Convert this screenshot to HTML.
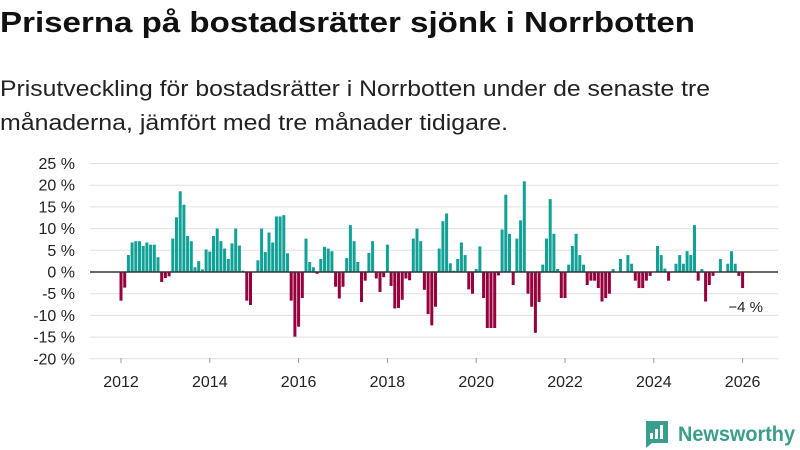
<!DOCTYPE html>
<html><head><meta charset="utf-8">
<style>
html,body{margin:0;padding:0;background:#fff;width:800px;height:450px;overflow:hidden;font-family:"Liberation Sans","DejaVu Sans",sans-serif;}
svg text{font-family:"Liberation Sans","DejaVu Sans",sans-serif;}
</style></head>
<body>
<svg id="chart" width="800" height="450" viewBox="0 0 800 450">
  <text x="0" y="32" font-size="29" font-weight="bold" fill="#111" textLength="695" lengthAdjust="spacingAndGlyphs">Priserna på bostadsrätter sjönk i Norrbotten</text>
  <text x="0" y="96" font-size="22" fill="#222" textLength="710" lengthAdjust="spacingAndGlyphs">Prisutveckling för bostadsrätter i Norrbotten under de senaste tre</text>
  <text x="0" y="130" font-size="22" fill="#222" textLength="508" lengthAdjust="spacingAndGlyphs">månaderna, jämfört med tre månader tidigare.</text>
  <g id="grid"></g>
  <g id="bars"></g>
  <line x1="90" x2="778" y1="272" y2="272" stroke="#333" stroke-width="1.5"/>
  <g id="xaxis"></g>
  <text x="763" y="312" font-size="15" fill="#222" text-anchor="end">−4 %</text>
  <g>
    <path d="M646 421 h22 v22 h-16 l-6 5 z" fill="#3a9e8c"/>
    <rect x="650" y="433" width="3" height="6" fill="#fff"/>
    <rect x="655" y="429" width="3" height="10" fill="#fff"/>
    <rect x="660" y="425" width="3" height="14" fill="#fff"/>
    <text x="678" y="441" font-size="21" font-weight="bold" fill="#3a9e8c" textLength="117" lengthAdjust="spacingAndGlyphs">Newsworthy</text>
  </g>
</svg>
<script>
const values = [-6.6,-3.6,3.9,6.8,7.1,7.1,6.0,6.8,6.3,6.3,3.4,-2.3,-1.4,-1,7.7,12.6,18.6,15.5,8.3,7.1,1.1,2.5,0.6,5.2,4.7,8.3,10,7.1,5.4,3,6.6,10,6.1,0.3,-6.6,-7.6,0,2.7,10,4.6,9.1,6.8,12.8,12.8,13.1,4.3,-6.6,-14.9,-12.6,-6,7.7,2.3,1.1,-0.4,3,5.8,5.4,4.8,-3.4,-6.1,-3.4,3.2,10.8,7.1,2.3,-6.9,-2,4.4,7.1,-1.5,-4.6,-1.2,6.3,-3.2,-8.4,-8.3,-6.4,-1.5,-1.9,7.7,10,7.1,-4.1,-9.7,-12.3,-8,5.4,11.7,13.5,2,0.3,3,6.8,3.9,-4,-5,0.7,5.9,-6,-12.9,-12.9,-12.9,-0.8,9.8,17.8,8.8,-3,7.7,11.9,20.9,-5,-8,-14,-6.9,1.7,7.7,16.8,8.8,0.7,-6,-6,1.7,6,8.8,3.9,1.7,-3,-2,-2,-3.7,-6.8,-6,-5,0.7,0,3,0,3.9,1.9,-2,-3.7,-3.7,-2,-0.9,0,6,3.9,0.8,-2,0,1.9,3.9,1.9,4.8,3.9,10.8,-2,0.7,-6.8,-3,-0.9,0,3,0,1.9,4.8,1.9,-0.9,-3.7];
const startYear = 2012;
const yTicks = [25,20,15,10,5,0,-5,-10,-15,-20];
const xTickYears = [2012,2014,2016,2018,2020,2022,2024,2026];

const NS = "http://www.w3.org/2000/svg";
function y(v){ return 272 - v*4.34; }
function x(i){ return 121 + i*3.7; }
function xYear(yr){ return x((yr-startYear)*12); }

const grid = document.getElementById('grid');
yTicks.forEach(t=>{
  const l = document.createElementNS(NS,'line');
  l.setAttribute('x1',90); l.setAttribute('x2',778);
  l.setAttribute('y1',y(t)); l.setAttribute('y2',y(t));
  l.setAttribute('stroke','#e0e0e0'); l.setAttribute('stroke-width','1');
  
  
  grid.appendChild(l);
  const tx = document.createElementNS(NS,'text');
  tx.setAttribute('x',75); tx.setAttribute('y',y(t)+5.5);
  tx.setAttribute('text-anchor','end'); tx.setAttribute('font-size','16'); tx.setAttribute('fill','#222');
  tx.textContent = (t<0?'-'+Math.abs(t):t)+' %';
  
  
  grid.appendChild(tx);
});

const bars = document.getElementById('bars');
values.forEach((v,i)=>{
  if(v===0) return;
  const r = document.createElementNS(NS,'rect');
  r.setAttribute('x', x(i)-1.5);
  r.setAttribute('width', 3);
  r.setAttribute('y', Math.min(y(v),272));
  r.setAttribute('height', Math.abs(y(v)-272));
  r.setAttribute('fill', v>0 ? '#12a197' : '#96003c');
  
  
  bars.appendChild(r);
});

const xa = document.getElementById('xaxis');
xTickYears.forEach(yr=>{
  const l = document.createElementNS(NS,'line');
  l.setAttribute('x1',xYear(yr)); l.setAttribute('x2',xYear(yr));
  l.setAttribute('y1',358); l.setAttribute('y2',363);
  l.setAttribute('stroke','#999');
  
  
  xa.appendChild(l);
  const t = document.createElementNS(NS,'text');
  t.setAttribute('x',xYear(yr)); t.setAttribute('y',387);
  t.setAttribute('text-anchor','middle'); t.setAttribute('font-size','16'); t.setAttribute('fill','#222');
  t.textContent = yr;
  
  
  xa.appendChild(t);
});
</script>
</body></html>
